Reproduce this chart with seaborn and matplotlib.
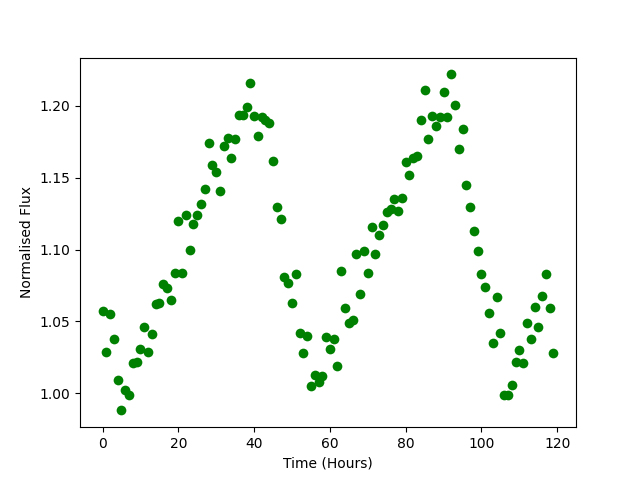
import matplotlib
matplotlib.use("Agg")
import matplotlib.pyplot as plt
import seaborn as sns
import numpy as np
import pandas as pd

time_hours = list(range(120))
flux = [
    1.057, 1.029, 1.055, 1.038, 1.009, 0.988, 1.002, 0.999, 1.021, 1.022,
    1.031, 1.046, 1.029, 1.041, 1.062, 1.063, 1.076, 1.073, 1.065, 1.084,
    1.120, 1.084, 1.124, 1.100, 1.118, 1.124, 1.132, 1.142, 1.174, 1.159,
    1.154, 1.141, 1.172, 1.178, 1.164, 1.177, 1.194, 1.194, 1.199, 1.216,
    1.193, 1.179, 1.192, 1.190, 1.188, 1.162, 1.130, 1.121, 1.081, 1.077,
    1.063, 1.083, 1.042, 1.028, 1.040, 1.005, 1.013, 1.008, 1.012, 1.039,
    1.031, 1.038, 1.019, 1.085, 1.059, 1.049, 1.051, 1.097, 1.069, 1.099,
    1.084, 1.116, 1.097, 1.110, 1.117, 1.126, 1.128, 1.135, 1.127, 1.136,
    1.161, 1.152, 1.164, 1.165, 1.190, 1.211, 1.177, 1.193, 1.186, 1.192,
    1.210, 1.192, 1.222, 1.201, 1.170, 1.184, 1.145, 1.130, 1.113, 1.099,
    1.083, 1.074, 1.056, 1.035, 1.067, 1.042, 0.999, 0.999, 1.006, 1.022,
    1.030, 1.021, 1.049, 1.038, 1.060, 1.046, 1.068, 1.083, 1.059, 1.028,
]

df = pd.DataFrame({"Time (Hours)": time_hours, "Normalised Flux": flux})

fig, ax = plt.subplots(figsize=(6.4, 4.8), dpi=100)
sns.scatterplot(data=df, x="Time (Hours)", y="Normalised Flux", color="green",
                s=49, linewidth=0, ax=ax)
ax.set_xlabel("Time (Hours)")
ax.set_ylabel("Normalised Flux")
fig.savefig("out.png", dpi=100)
